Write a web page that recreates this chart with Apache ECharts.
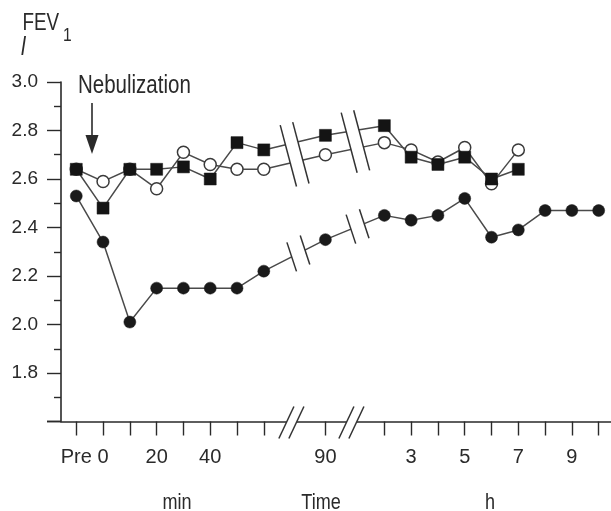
<!DOCTYPE html>
<html>
<head>
<meta charset="utf-8">
<script src="https://cdn.jsdelivr.net/npm/echarts@6/dist/echarts.min.js"></script>
<style>
html,body{margin:0;padding:0;background:#fff;}
#c{width:611px;height:511px;}
</style>
</head>
<body>
<div id="c"></div>
<script>
// ---- data ----
const minuteTimes = ['Pre', 0, 10, 20, 30, 40, 50, 60, 90];
const hourTimes = [2, 3, 4, 5, 6, 7, 8, 9, 10];
const labeledMinutes = ['Pre', 0, 20, 40, 90];
const labeledHours = [3, 5, 7, 9];

const filledCircleMin = [2.53, 2.34, 2.01, 2.15, 2.15, 2.15, 2.15, 2.22, 2.35];
const filledCircleHour = [2.45, 2.43, 2.45, 2.52, 2.36, 2.39, 2.47, 2.47, 2.47];
const squareMin = [2.64, 2.48, 2.64, 2.64, 2.65, 2.60, 2.75, 2.72, 2.78];
const squareHour = [2.82, 2.69, 2.66, 2.69, 2.60, 2.64];
const openMin = [2.64, 2.59, 2.64, 2.56, 2.71, 2.66, 2.64, 2.64, 2.70];
const openHour = [2.75, 2.72, 2.67, 2.73, 2.58, 2.72];

// ---- broken time axis: map time to an axis slot ----
function slotOf(t, unit) {
  if (unit === 'h') return 11.5 + (t - 2);
  if (t === 'Pre') return 0;
  if (t <= 60) return 1 + t / 10;
  return 9.3 + (t - 90) / 10;
}
function build(minVals, hourVals) {
  const pts = [];
  minVals.forEach((v, i) => pts.push([slotOf(minuteTimes[i], 'min'), v]));
  hourVals.forEach((v, i) => pts.push([slotOf(hourTimes[i], 'h'), v]));
  return pts;
}
const dataC = build(filledCircleMin, filledCircleHour);
const dataA = build(squareMin, squareHour);
const dataB = build(openMin, openHour);

const tickSlots = minuteTimes.map(t => slotOf(t, 'min')).concat(hourTimes.map(t => slotOf(t, 'h')));
const labelMap = {};
labeledMinutes.forEach(t => labelMap[slotOf(t, 'min').toFixed(2)] = String(t));
labeledHours.forEach(t => labelMap[slotOf(t, 'h').toFixed(2)] = String(t));
const labelSlots = Object.keys(labelMap).map(Number);

const FONT = "'Liberation Sans', Arial, sans-serif";
const INK = '#2a2a2a';
const LINE = '#4a4a4a';
const NARROW = 0.82;

const chart = echarts.init(document.getElementById('c'));
chart.setOption({
  backgroundColor: '#fff',
  animation: false,
  grid: { left: 61, right: 0, top: 82, bottom: 89.5 },
  xAxis: {
    type: 'value', min: -0.57, max: 19.96,
    splitLine: { show: false },
    axisLine: { onZero: false, lineStyle: { color: INK, width: 1.6 } },
    axisTick: { customValues: tickSlots, length: 14, lineStyle: { color: INK, width: 1.4 } },
    axisLabel: {
      customValues: labelSlots, margin: 26,
      formatter: v => labelMap[Number(v).toFixed(2)] || '',
      fontFamily: FONT, fontSize: 20, color: INK
    }
  },
  yAxis: {
    type: 'value', min: 1.6, max: 3.0, interval: 0.2,
    splitLine: { show: false },
    axisLine: { show: true, onZero: false, lineStyle: { color: INK, width: 1.6 } },
    axisTick: { show: true, length: 14, lineStyle: { color: INK, width: 1.4 } },
    minorTick: { show: true, splitNumber: 2, length: 7, lineStyle: { color: INK, width: 1.4 } },
    axisLabel: {
      margin: 23, fontFamily: FONT, fontSize: 19, color: INK, padding: [5, 0, 0, 0],
      formatter: v => (Math.abs(v - 1.6) < 1e-6 ? '' : v.toFixed(1))
    }
  },
  series: [
    { name: 'open', type: 'line', data: dataB, z: 2,
      symbol: 'circle', symbolSize: 12,
      lineStyle: { color: LINE, width: 1.5 },
      itemStyle: { color: '#fff', borderColor: '#3a3a3a', borderWidth: 1.5 } },
    { name: 'square', type: 'line', data: dataA, z: 3,
      symbol: 'rect', symbolSize: 12,
      lineStyle: { color: LINE, width: 1.5 },
      itemStyle: { color: '#141414', borderColor: '#141414', borderWidth: 0.5 } },
    { name: 'filled', type: 'line', data: dataC, z: 4,
      symbol: 'circle', symbolSize: 12,
      lineStyle: { color: LINE, width: 1.5 },
      itemStyle: { color: '#1a1a1a', borderColor: '#1a1a1a', borderWidth: 0.5 } }
  ]
});

// ---- break marks ----
function px(x, y) { return chart.convertToPixel({ gridIndex: 0 }, [x, y]); }
function lineYAt(data, slot) {
  for (let i = 0; i < data.length - 1; i++) {
    const a = data[i], b = data[i + 1];
    if (slot >= a[0] && slot <= b[0]) {
      const f = (slot - a[0]) / (b[0] - a[0]);
      return px(slot, a[1] + f * (b[1] - a[1]))[1];
    }
  }
  return null;
}
function slotAtPx(xp) { return chart.convertFromPixel({ gridIndex: 0 }, [xp, 0])[0]; }

const g = [];
function slashPair(cx, yFn, halfH, slope, gap) {
  const pts = [];
  [-gap / 2, gap / 2].forEach(off => {
    const x = cx + off;
    const cy = yFn(x);
    pts.push([[x - halfH * slope, cy - halfH], [x + halfH * slope, cy + halfH]]);
  });
  g.push({ type: 'polygon', z: 50, shape: { points: [pts[0][0], pts[1][0], pts[1][1], pts[0][1]] }, style: { fill: '#fff' } });
  pts.forEach(p => g.push({ type: 'line', z: 51, shape: { x1: p[0][0], y1: p[0][1], x2: p[1][0], y2: p[1][1] }, style: { stroke: '#333', lineWidth: 1.5 } }));
}
const abBreaks = [8.15, 10.42];
const cBreaks = [8.29, 10.5];
const axisBreaks = [8.03, 10.27];
abBreaks.forEach(b => {
  const cx = px(b, 2)[0];
  const yA = lineYAt(dataA, b), yB = lineYAt(dataB, b);
  const half = Math.abs(yB - yA) / 2 + 21;
  slashPair(cx, x => { const s = slotAtPx(x); return (lineYAt(dataA, s) + lineYAt(dataB, s)) / 2 + 2; }, half, 0.265, 12.5);
});
cBreaks.forEach(b => {
  const cx = px(b, 2)[0];
  slashPair(cx, x => lineYAt(dataC, slotAtPx(x)), 14.5, 0.33, 13.3);
});
axisBreaks.forEach(b => {
  const p = px(b, 1.6);
  slashPair(p[0], x => p[1] + 1, 16, -0.47, 10);
});

// x-axis line continues a little to the left of the y axis
const corner = px(-0.57, 1.6);
g.push({ type: 'line', z: 40, shape: { x1: corner[0] - 14, y1: corner[1], x2: corner[0], y2: corner[1] }, style: { stroke: INK, lineWidth: 1.6 } });

// ---- annotations ----
function txt(text, x, y, size, align, extra) {
  g.push({ type: 'text', z: 60, x: x, y: y, scaleX: NARROW, scaleY: 1,
    style: { text: text, font: (extra || '') + size + 'px ' + FONT, fill: INK, align: align, verticalAlign: 'middle' } });
}
txt('FEV', 22.5, 23.5, 23, 'left');
txt('1', 63, 36, 19, 'left');
txt('l', 21, 48, 25, 'left', 'italic ');
txt('Nebulization', 78, 86.5, 25, 'left');
g.push({ type: 'line', z: 60, shape: { x1: 92, y1: 103, x2: 92, y2: 137 }, style: { stroke: INK, lineWidth: 1.6 } });
g.push({ type: 'polygon', z: 60, shape: { points: [[85.5, 135], [98.5, 135], [92, 154]] }, style: { fill: INK } });
txt('min', 177, 503, 22, 'center');
txt('Time', 321, 503, 22, 'center');
txt('h', 490, 503, 22, 'center');

chart.setOption({ graphic: { elements: g } });
</script>
</body>
</html>
